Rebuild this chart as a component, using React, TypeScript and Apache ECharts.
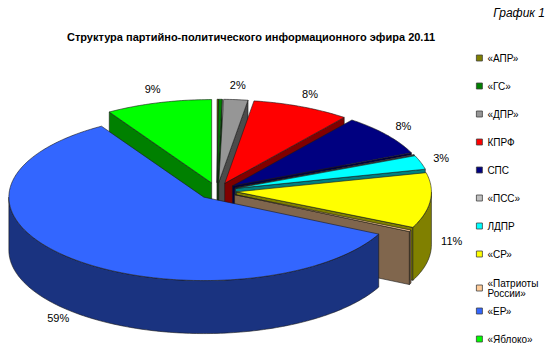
import React, { useEffect, useRef } from "react";
import * as echarts from "echarts";

const parties = ["«АПР»", "«ГС»", "«ДПР»", "КПРФ", "СПС", "«ПСС»", "ЛДПР", "«СР»", "«Патриоты России»", "«ЕР»", "«Яблоко»"];
const shares = [0.1, 0.3, 2.0, 8.1, 8.0, 0.1, 2.7, 10.7, 0.3, 58.9, 8.8];
const palette = ["#808000", "#008000", "#969696", "#FF0000", "#000080", "#C0C0C0", "#00FFFF", "#FFFF00", "#FFCC99", "#3366FF", "#00FF00"];

const chartTitle = "Структура партийно-политического информационного эфира 20.11";
const cornerNote = "График 1";

const FONT = '"Liberation Sans", Arial, sans-serif';

function shade(hex: string, f: number) {
  const n = parseInt(hex.slice(1), 16);
  const r = Math.round(((n >> 16) & 255) * f);
  const g = Math.round(((n >> 8) & 255) * f);
  const b = Math.round((n & 255) * f);
  return `rgb(${r},${g},${b})`;
}

export default function App() {
  const ref = useRef<HTMLDivElement>(null);
  useEffect(() => {
    if (!ref.current) return;
    const chart = echarts.init(ref.current, undefined, { renderer: "svg" });

    const CX = 217, CY = 191, RX = 195, RY = 83.4, DEPTH = 53, EXPLODE = 0.1;
    const total = shares.reduce((a, b) => a + b, 0);
    const starts: number[] = [];
    let acc = 0;
    shares.forEach((v) => { starts.push(acc); acc += v; });
    const angles = shares.map((v, i) => {
      const a0 = (starts[i] / total) * Math.PI * 2;
      const a1 = ((starts[i] + v) / total) * Math.PI * 2;
      return { a0, a1, mid: (a0 + a1) / 2 };
    });

    const stroke = "#1a1a1a";
    const lw = 0.6;

    const makeRender = (idx: number) => (params: any, api: any) => {
      const { a0, a1, mid } = angles[idx];
      const ox = CX + EXPLODE * RX * Math.sin(mid);
      const oy = CY - EXPLODE * RY * Math.cos(mid);
      const P = (t: number, z: number) => [ox + RX * Math.sin(t), oy - RY * Math.cos(t) + z];
      const arc = (s: number, e: number, z: number) => {
        const n = Math.max(2, Math.ceil(Math.abs(e - s) / (Math.PI / 180)) + 1);
        const pts: number[][] = [];
        for (let k = 0; k < n; k++) pts.push(P(s + ((e - s) * k) / (n - 1), z));
        return pts;
      };
      const col = palette[idx];
      const dark = shade(col, 0.5);
      const children: any[] = [];
      const wall = (t: number) => ({
        type: "polygon",
        shape: { points: [[ox, oy], P(t, 0), P(t, DEPTH), [ox, oy + DEPTH]] },
        style: { fill: dark, stroke, lineWidth: lw, lineJoin: "round" },
      });
      if (Math.sin(a0) < -1e-6) children.push(wall(a0));
      if (Math.sin(a1) > 1e-6) children.push(wall(a1));
      const s = Math.max(a0, Math.PI / 2);
      const e = Math.min(a1, (Math.PI * 3) / 2);
      if (e > s) {
        const top = arc(s, e, 0);
        const bot = arc(e, s, DEPTH);
        children.push({
          type: "polygon",
          shape: { points: top.concat(bot) },
          style: { fill: dark, stroke, lineWidth: lw, lineJoin: "round" },
        });
      }
      children.push({
        type: "polygon",
        shape: { points: [[ox, oy]].concat(arc(a0, a1, 0)) },
        style: { fill: col, stroke, lineWidth: lw, lineJoin: "round" },
      });
      const pct = Math.round((shares[idx] / total) * 100);
      if (pct >= 1) {
        const c = Math.cos(mid);
        const lx = CX + RX * 1.21 * Math.sin(mid);
        const ly = CY - RY * 1.27 * c + (c < 0 ? DEPTH * (0.7 + 0.3 * -c) : 0);
        children.push({
          type: "text",
          x: lx,
          y: ly,
          z2: 50,
          style: { text: pct + "%", fill: "#000", font: `11px ${FONT}`, align: "center", verticalAlign: "middle" },
        });
      }
      return { type: "group", children };
    };

    const order = parties.map((_, i) => i).sort((a, b) => -Math.cos(angles[a].mid) - -Math.cos(angles[b].mid));

    const series = order.map((i) => ({
      type: "custom",
      name: parties[i],
      coordinateSystem: "none",
      silent: true,
      itemStyle: { color: palette[i] },
      data: [[shares[i]]],
      renderItem: makeRender(i),
    }));

    const legendBase = {
      orient: "vertical",
      left: 476,
      padding: 0,
      icon: "rect",
      itemWidth: 6,
      itemHeight: 6,
      itemGap: 16,
      selectedMode: false,
      itemStyle: { borderColor: "#404040", borderWidth: 0.8 },
      textStyle: { fontFamily: FONT, fontSize: 10, color: "#000", lineHeight: 12 },
    };

    chart.setOption({
      animation: false,
      backgroundColor: "#fff",
      legend: [
        { ...legendBase, top: 52, data: parties.slice(0, 8) },
        {
          ...legendBase,
          top: 278,
          data: [parties[8]],
          formatter: (n: string) => n.replace(" ", "\n"),
          textStyle: { ...legendBase.textStyle, lineHeight: 10 },
        },
        { ...legendBase, top: 305, data: parties.slice(9) },
      ],
      graphic: [
        {
          type: "text",
          x: 251,
          y: 37,
          style: { text: chartTitle, font: `bold 11px ${FONT}`, fill: "#000", align: "center", verticalAlign: "middle" },
        },
        {
          type: "text",
          x: 545,
          y: 13,
          style: { text: cornerNote, font: `italic 12px ${FONT}`, fill: "#000", align: "right", verticalAlign: "middle" },
        },
      ],
      series,
    } as any);

    return () => chart.dispose();
  }, []);
  return <div ref={ref} style={{ position: "fixed", left: 0, top: 0, width: 550, height: 355 }} />;
}
